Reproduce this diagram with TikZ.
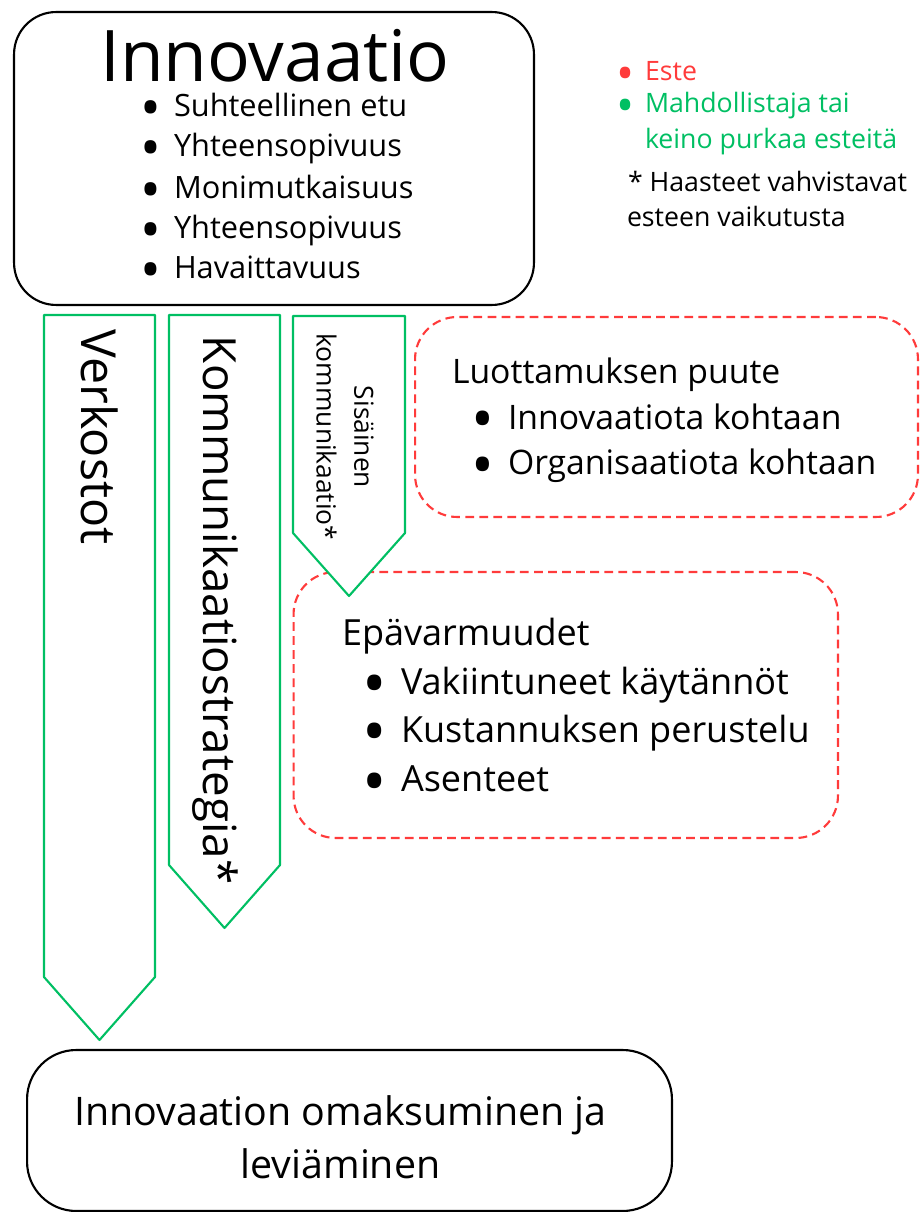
\documentclass[tikz,border=0pt]{standalone}
\usepackage{fontspec}
\setmainfont{Open Sans}
\usetikzlibrary{positioning}
\definecolor{esteRed}{HTML}{FF3B3B}
\definecolor{keinoGreen}{HTML}{00BF63}
\newcommand{\bitem}[1]{\llap{\makebox[0pt]{\raisebox{-0.16em}{$\vcenter{\hbox{\scalebox{1.8}{\textbullet}}}$}}\hspace{0.74em}}#1}
\tikzstyle{every node}=[inner sep=0pt,outer sep=0pt]
\tikzstyle{every path}=[line width=1.2pt,line join=round]
\tikzstyle{plainbox}=[draw=black,rounded corners=24pt]
\tikzstyle{barrier}=[draw=esteRed,dash pattern=on 5pt off 3pt,rounded corners=24pt]
\tikzstyle{enabler}=[draw=keinoGreen,fill=white]
\tikzstyle{listtext}=[anchor=base west,font=\fontsize{17.5}{21}\selectfont]
\tikzstyle{legendtext}=[anchor=base west,font=\fontsize{15.2}{18}\selectfont]
\tikzstyle{trusttext}=[anchor=base west,font=\fontsize{19.2}{23}\selectfont]
\tikzstyle{doubttext}=[anchor=base west,font=\fontsize{20.5}{24}\selectfont]
\tikzstyle{arrowtext}=[rotate=-90,anchor=base west]

\begin{document}
\begin{tikzpicture}[x=0.02cm,y=-0.02cm]
    % Page size of the reference
    \useasboundingbox (0,0) rectangle (919,1212);

    % Innovation box
    \node[plainbox,minimum width=10.4cm,minimum height=5.86cm] (innovation) at (274,158.5) {};
    \node[anchor=base,font=\fontsize{40.5}{44}\selectfont] (innotitle) at (275,81.7) {Innovaatio};
    \foreach \y/\txt [count=\i] in {116.7/Suhteellinen etu,156.7/Yhteensopivuus,
            198.3/Monimutkaisuus,238.3/Yhteensopivuus,278.3/Havaittavuus}
        \node[listtext] (attr\i) at (174,\y) {\bitem{\txt}};

    % Legend
    \node[legendtext,text=esteRed] (este) at (645,80.7) {\bitem{Este}};
    \node[legendtext,text=keinoGreen] (keinoA) at (645,113) {\bitem{Mahdollistaja tai}};
    \node[legendtext,text=keinoGreen] (keinoB) at (645,149) {keino purkaa esteitä};
    \node[legendtext] (noteA) at (628,191.7) {* Haasteet vahvistavat};
    \node[legendtext] (noteB) at (627,226.7) {esteen vaikutusta};

    % Barriers (dashed)
    \node[barrier,minimum width=10.06cm,minimum height=4cm] (trust) at (666.5,417) {};
    \node[trusttext] (trusttitle) at (452,383.3) {Luottamuksen puute};
    \node[trusttext] (trustA) at (508,429.3) {\bitem{Innovaatiota kohtaan}};
    \node[trusttext] (trustB) at (508,475) {\bitem{Organisaatiota kohtaan}};

    \node[barrier,minimum width=10.89cm,minimum height=5.32cm] (doubt) at (565.75,705) {};
    \node[doubttext] (doubttitle) at (342,645) {Epävarmuudet};
    \foreach \y/\txt [count=\i] in {694.3/Vakiintuneet käytännöt,
            742.3/Kustannuksen perustelu,791.7/Asenteet}
        \node[doubttext] (doubt\i) at (401,\y) {\bitem{\txt}};

    % Enablers (green arrows, drawn over the barriers)
    \draw[enabler] (44,315) -- (155,315) -- (155,977)
        -- (99.5,1040) coordinate (nettip) -- (44,977) -- cycle;
    \draw[enabler] (169,315) -- (280,315) -- (280,865)
        -- (224.5,928) coordinate (strategytip) -- (169,865) -- cycle;
    \draw[enabler] (293,316) -- (405,316) -- (405,533)
        -- (349,596) coordinate (internaltip) -- (293,533) -- cycle;
    \node[arrowtext,font=\fontsize{27.5}{31}\selectfont] (networks) at (81,330) {Verkostot};
    \node[arrowtext,font=\fontsize{26}{30}\selectfont] (strategy) at (203,336) {Kommunikaatiostrategia*};
    \node[rotate=-90,align=center,font=\fontsize{15}{21.5}\selectfont] (internal) at (345,437) {Sisäinen\\kommunikaatio*};

    % Adoption box
    \node[plainbox,rounded corners=28pt,minimum width=12.9cm,minimum height=3.22cm] (adoption) at (349.5,1130.5) {};
    \node[anchor=base,font=\fontsize{22.4}{26}\selectfont] (adoptA) at (340.5,1125) {Innovaation omaksuminen ja};
    \node[anchor=base,font=\fontsize{22.4}{26}\selectfont] (adoptB) at (340.5,1178) {leviäminen};
\end{tikzpicture}
\end{document}
